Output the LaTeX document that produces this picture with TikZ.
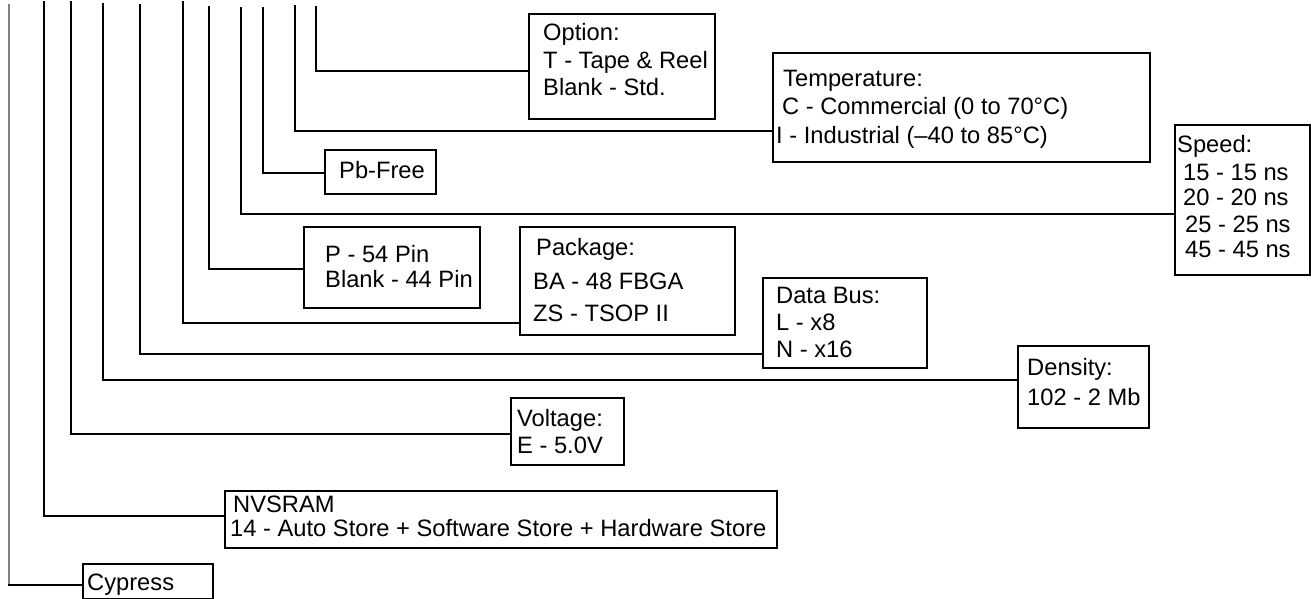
\documentclass[tikz,border=0pt]{standalone}
\usepackage{fontspec}
\setmainfont{Liberation Sans}
\begin{document}
\begin{tikzpicture}[x=1pt,y=-1pt,
  wire/.style={line width=2pt, line cap=rect},
  box/.style={draw, line width=2pt, rectangle, inner sep=0pt, anchor=north west},
  txt/.style={anchor=base west, inner sep=0pt, font=\fontsize{23.7}{26}\selectfont}]
\useasboundingbox (0,0) rectangle (1311,599);
% boxes
\node[box, minimum width=186pt, minimum height=105pt] (opt) at (528,13) {};
\node[box, minimum width=377pt, minimum height=109pt] (tmp) at (772,52) {};
\node[box, minimum width=111pt, minimum height=44pt] (pbf) at (324,149) {};
\node[box, minimum width=135pt, minimum height=150pt] (spd) at (1174,124) {};
\node[box, minimum width=176pt, minimum height=81pt] (pin) at (303,226) {};
\node[box, minimum width=215pt, minimum height=108pt] (pkg) at (519,226) {};
\node[box, minimum width=164pt, minimum height=90pt] (bus) at (762,277) {};
\node[box, minimum width=131pt, minimum height=82pt] (den) at (1017,345) {};
\node[box, minimum width=113pt, minimum height=67pt] (vol) at (510,397) {};
\node[box, minimum width=552pt, minimum height=57pt] (nvs) at (224,490) {};
\node[box, minimum width=130pt, minimum height=35pt] (cyp) at (82,563) {};
% texts
\node[txt] (opt1) at (543,41) {Option:};
\node[txt] (opt2) at (543,69) {T - Tape \& Reel};
\node[txt] (opt3) at (543,96) {Blank - Std.};
\node[txt] (tmp1) at (783,87) {Temperature:};
\node[txt] (tmp2) at (782,115) {C - Commercial (0 to 70°C)};
\node[txt] (tmp3) at (776,143) {I - Industrial (–40 to 85°C)};
\node[txt] (spd1) at (1177,153) {Speed:};
\node[txt] (spd2) at (1183,180) {15 - 15 ns};
\node[txt] (spd3) at (1183,205) {20 - 20 ns};
\node[txt] (spd4) at (1185,232) {25 - 25 ns};
\node[txt] (spd5) at (1185,257) {45 - 45 ns};
\node[txt] (pbf1) at (339,178) {Pb-Free};
\node[txt] (pin1) at (325,262) {P - 54 Pin};
\node[txt] (pin2) at (325,287) {Blank - 44 Pin};
\node[txt] (pkg1) at (536,255) {Package:};
\node[txt] (pkg2) at (533,289) {BA - 48 FBGA};
\node[txt] (pkg3) at (533,321) {ZS - TSOP II};
\node[txt] (bus1) at (776,303) {Data Bus:};
\node[txt] (bus2) at (776,330) {L - x8};
\node[txt] (bus3) at (776,357) {N - x16};
\node[txt] (den1) at (1027,375) {Density:};
\node[txt] (den2) at (1027,405) {102 - 2 Mb};
\node[txt] (vol1) at (517,426) {Voltage:};
\node[txt] (vol2) at (517,453) {E - 5.0V};
\node[txt] (nvs1) at (233,512) {NVSRAM};
\node[txt] (nvs2) at (230,536) {14 - Auto Store + Software Store + Hardware Store};
\node[txt] (cyp1) at (87,590) {Cypress};
% connector tops
\coordinate (t1) at (9,4);
\coordinate (k1) at (9,585);
\coordinate (t2) at (44,2);
\coordinate (t3) at (71,2);
\coordinate (t4) at (103,4);
\coordinate (t5) at (140,5);
\coordinate (t6) at (183,2);
\coordinate (t7) at (209,7);
\coordinate (t8) at (241,8);
\coordinate (t9) at (263,8);
\coordinate (t10) at (295,6);
\coordinate (t11) at (316,7);
% connectors
\draw[gray, line width=1.3pt] (t1) -- (k1);
\draw[wire] (k1) -- ([yshift=-22pt]cyp.north west);
\draw[wire] (t2) |- ([yshift=-26pt]nvs.north west);
\draw[wire] (t3) |- ([yshift=-37pt]vol.north west);
\draw[wire] (t4) |- ([yshift=-35pt]den.north west);
\draw[wire] (t5) |- ([yshift=-77pt]bus.north west);
\draw[wire] (t6) |- ([yshift=-97pt]pkg.north west);
\draw[wire] (t7) |- ([yshift=-43pt]pin.north west);
\draw[wire] (t8) |- ([yshift=-90pt]spd.north west);
\draw[wire] (t9) |- ([yshift=-24pt]pbf.north west);
\draw[wire] (t10) |- ([yshift=-79pt]tmp.north west);
\draw[wire] (t11) |- ([yshift=-58pt]opt.north west);
\end{tikzpicture}
\end{document}
